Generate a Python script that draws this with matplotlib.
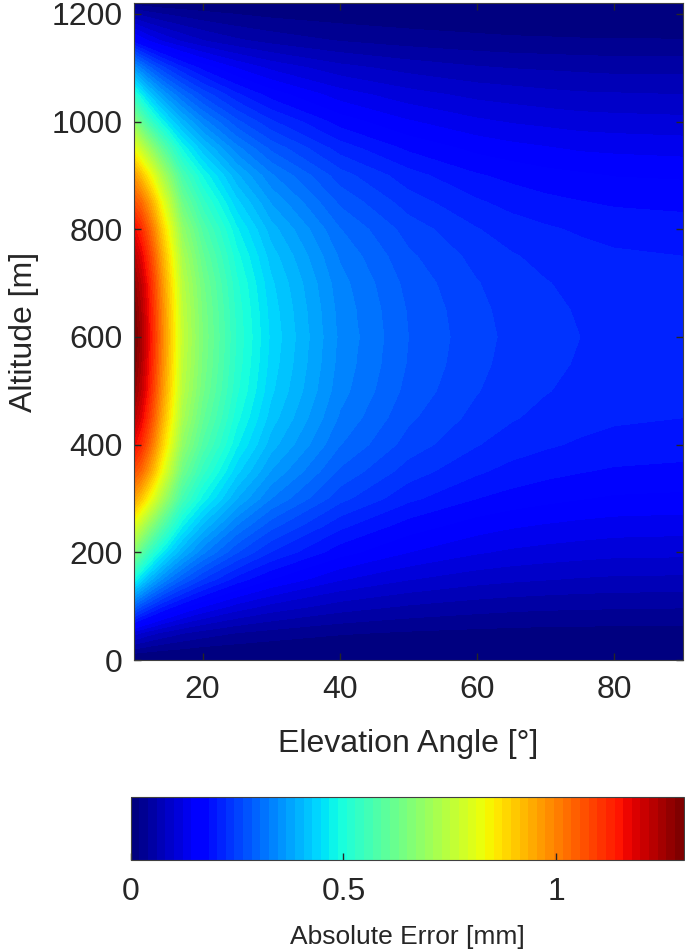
import matplotlib
matplotlib.use('Agg')
import matplotlib.pyplot as plt
import numpy as np
from matplotlib.colors import Normalize
from matplotlib.cm import ScalarMappable

plt.rcParams['font.family'] = ['Liberation Sans', 'DejaVu Sans']

# elevation angles [deg] (columns) and altitudes [m] (rows)
angles = [10, 11, 12, 13, 14, 15, 17, 20, 25, 30, 40, 50, 60, 65, 70, 75, 80, 90]
altitudes = [0, 25, 50, 100, 150, 200, 250, 300, 350, 400, 450, 500, 550, 575, 600,
             625, 650, 700, 750, 800, 850, 900, 950, 1000, 1050, 1100, 1150, 1200, 1220]

# absolute error [mm]
abs_error = [
    [0.000, 0.000, 0.000, 0.000, 0.000, 0.000, 0.000, 0.000, 0.000, 0.000, 0.000, 0.000, 0.000, 0.000, 0.000, 0.000, 0.000, 0.000],
    [0.060, 0.055, 0.050, 0.046, 0.043, 0.040, 0.036, 0.030, 0.025, 0.021, 0.016, 0.014, 0.012, 0.011, 0.011, 0.011, 0.011, 0.010],
    [0.120, 0.109, 0.100, 0.093, 0.086, 0.081, 0.071, 0.061, 0.049, 0.042, 0.032, 0.027, 0.024, 0.023, 0.022, 0.022, 0.021, 0.021],
    [0.300, 0.273, 0.251, 0.232, 0.215, 0.201, 0.178, 0.152, 0.123, 0.104, 0.081, 0.068, 0.060, 0.057, 0.055, 0.054, 0.053, 0.052],
    [0.490, 0.446, 0.409, 0.378, 0.352, 0.329, 0.291, 0.249, 0.201, 0.170, 0.132, 0.111, 0.098, 0.094, 0.091, 0.088, 0.086, 0.085],
    [0.660, 0.601, 0.551, 0.509, 0.474, 0.443, 0.392, 0.335, 0.271, 0.229, 0.178, 0.150, 0.132, 0.126, 0.122, 0.119, 0.116, 0.115],
    [0.800, 0.747, 0.693, 0.643, 0.594, 0.552, 0.475, 0.406, 0.329, 0.278, 0.216, 0.181, 0.160, 0.153, 0.148, 0.144, 0.141, 0.139],
    [0.950, 0.904, 0.846, 0.787, 0.724, 0.669, 0.564, 0.482, 0.390, 0.330, 0.257, 0.215, 0.190, 0.182, 0.176, 0.171, 0.167, 0.165],
    [1.060, 1.027, 0.969, 0.903, 0.828, 0.762, 0.630, 0.538, 0.436, 0.368, 0.286, 0.240, 0.213, 0.203, 0.196, 0.191, 0.187, 0.184],
    [1.160, 1.114, 1.051, 0.980, 0.898, 0.827, 0.683, 0.584, 0.473, 0.399, 0.311, 0.261, 0.231, 0.220, 0.213, 0.207, 0.203, 0.200],
    [1.220, 1.172, 1.106, 1.031, 0.945, 0.870, 0.719, 0.614, 0.497, 0.420, 0.327, 0.274, 0.243, 0.232, 0.224, 0.218, 0.213, 0.210],
    [1.260, 1.211, 1.143, 1.065, 0.976, 0.899, 0.742, 0.635, 0.514, 0.434, 0.338, 0.283, 0.251, 0.240, 0.231, 0.225, 0.220, 0.217],
    [1.285, 1.231, 1.161, 1.082, 0.992, 0.913, 0.754, 0.645, 0.522, 0.441, 0.343, 0.288, 0.255, 0.243, 0.235, 0.228, 0.224, 0.221],
    [1.295, 1.235, 1.165, 1.086, 0.996, 0.917, 0.757, 0.647, 0.524, 0.443, 0.344, 0.289, 0.256, 0.244, 0.236, 0.229, 0.225, 0.221],
    [1.300, 1.240, 1.170, 1.091, 1.000, 0.920, 0.760, 0.650, 0.526, 0.445, 0.346, 0.290, 0.257, 0.245, 0.237, 0.230, 0.226, 0.222],
    [1.295, 1.235, 1.165, 1.086, 0.996, 0.917, 0.757, 0.647, 0.524, 0.443, 0.344, 0.289, 0.256, 0.244, 0.236, 0.229, 0.225, 0.221],
    [1.285, 1.231, 1.161, 1.082, 0.992, 0.913, 0.754, 0.645, 0.522, 0.441, 0.343, 0.288, 0.255, 0.243, 0.235, 0.228, 0.224, 0.221],
    [1.260, 1.211, 1.143, 1.065, 0.976, 0.899, 0.742, 0.635, 0.514, 0.434, 0.338, 0.283, 0.251, 0.240, 0.231, 0.225, 0.220, 0.217],
    [1.220, 1.172, 1.106, 1.031, 0.945, 0.870, 0.719, 0.614, 0.497, 0.420, 0.327, 0.274, 0.243, 0.232, 0.224, 0.218, 0.213, 0.210],
    [1.160, 1.114, 1.051, 0.980, 0.898, 0.827, 0.683, 0.584, 0.473, 0.399, 0.311, 0.261, 0.231, 0.220, 0.213, 0.207, 0.203, 0.200],
    [1.060, 1.027, 0.969, 0.903, 0.828, 0.762, 0.630, 0.538, 0.436, 0.368, 0.286, 0.240, 0.213, 0.203, 0.196, 0.191, 0.187, 0.184],
    [0.960, 0.913, 0.855, 0.795, 0.731, 0.676, 0.570, 0.487, 0.394, 0.333, 0.259, 0.218, 0.192, 0.184, 0.177, 0.173, 0.169, 0.167],
    [0.820, 0.766, 0.711, 0.659, 0.609, 0.566, 0.487, 0.416, 0.337, 0.285, 0.221, 0.186, 0.164, 0.157, 0.152, 0.147, 0.145, 0.142],
    [0.670, 0.610, 0.560, 0.517, 0.481, 0.450, 0.398, 0.340, 0.275, 0.233, 0.181, 0.152, 0.134, 0.128, 0.124, 0.120, 0.118, 0.116],
    [0.520, 0.473, 0.434, 0.401, 0.373, 0.349, 0.309, 0.264, 0.214, 0.181, 0.140, 0.118, 0.104, 0.100, 0.096, 0.093, 0.092, 0.090],
    [0.360, 0.328, 0.301, 0.278, 0.258, 0.242, 0.214, 0.183, 0.148, 0.125, 0.097, 0.082, 0.072, 0.069, 0.067, 0.065, 0.063, 0.063],
    [0.180, 0.164, 0.150, 0.139, 0.129, 0.121, 0.107, 0.091, 0.074, 0.063, 0.049, 0.041, 0.036, 0.034, 0.033, 0.032, 0.032, 0.031],
    [0.070, 0.064, 0.058, 0.054, 0.050, 0.047, 0.042, 0.036, 0.029, 0.024, 0.019, 0.016, 0.014, 0.013, 0.013, 0.013, 0.012, 0.012],
    [0.020, 0.018, 0.017, 0.015, 0.014, 0.013, 0.012, 0.010, 0.008, 0.007, 0.005, 0.005, 0.004, 0.004, 0.004, 0.004, 0.004, 0.003],
]

x_ticks = [20, 40, 60, 80]
y_ticks = [0, 200, 400, 600, 800, 1000, 1200]
err_ticks = [0, 0.5, 1]

txt = '#262626'
fig = plt.figure(figsize=(6.85, 9.52), dpi=100)
ax = fig.add_axes([0.1956, 0.3067, 0.8014, 0.690])

cmap = plt.get_cmap('jet', 64)
norm = Normalize(vmin=0, vmax=1.3)
levels = np.concatenate([[0.0], np.arange(0.01, 1.30, 0.02), [1.31]])
ax.contourf(angles, altitudes, np.array(abs_error), levels=levels, cmap=cmap, norm=norm)

ax.set_xlim(10, 90)
ax.set_ylim(0, 1220)
ax.set_xticks(x_ticks)
ax.set_yticks(y_ticks)
ax.tick_params(direction='in', top=True, right=True, length=5, width=1,
               labelsize=23, colors=txt)
ax.tick_params(axis='x', pad=11)
ax.tick_params(axis='y', pad=8)
for s in ax.spines.values():
    s.set_color('#404040')
ax.set_xlabel('Elevation Angle [°]', fontsize=23, color=txt, labelpad=17)
ax.set_ylabel('Altitude [m]', fontsize=23, color=txt, labelpad=9)

cax = fig.add_axes([0.191, 0.0966, 0.807, 0.0662])
cb = fig.colorbar(ScalarMappable(norm=norm, cmap=cmap), cax=cax,
                  orientation='horizontal', ticks=err_ticks)
cb.ax.set_xticklabels(['{:g}'.format(t) for t in err_ticks])
cb.ax.tick_params(direction='in', length=5, width=1, labelsize=23, colors=txt, pad=12)
cb.outline.set_edgecolor('#404040')
cb.set_label('Absolute Error [mm]', fontsize=19, color=txt, labelpad=13)

fig.savefig('out.png', dpi=100)
